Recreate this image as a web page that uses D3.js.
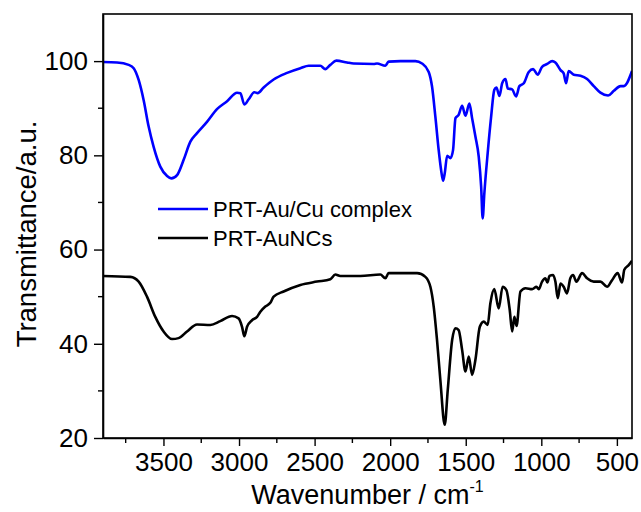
<!DOCTYPE html>
<html>
<head>
<meta charset="utf-8">
<script src="https://cdn.jsdelivr.net/npm/d3@7"></script>
<style>
  body { margin: 0; background: #fff; }
  svg { display: block; }
  text { font-family: "Liberation Sans", Arial, sans-serif; fill: #000; }
</style>
</head>
<body>
<svg id="chart" width="641" height="512"></svg>
<script>
// FTIR spectra: wavenumber (cm^-1) and transmittance (a.u.)
const seriesNames = ["PRT-Au/Cu complex", "PRT-AuNCs"];
const seriesColors = ["#0000ff", "#000000"];

const complexWn = [3900, 3807, 3730, 3697, 3664, 3631, 3598, 3565, 3521, 3476, 3448, 3410, 3367, 3322, 3278, 3212, 3146, 3079, 3013, 2991, 2965, 2936, 2899, 2877, 2837, 2771, 2682, 2594, 2539, 2462, 2429, 2396, 2356, 2285, 2242, 2109, 2087, 2032, 2010, 1932, 1833, 1789, 1745, 1723, 1701, 1679, 1663, 1650, 1639, 1623, 1601, 1584, 1568, 1547, 1524, 1502, 1476, 1458, 1436, 1414, 1398, 1388, 1377, 1355, 1332, 1311, 1297, 1277, 1259, 1237, 1222, 1193, 1167, 1145, 1116, 1083, 1054, 1024, 995, 961, 928, 907, 873, 852, 836, 819, 785, 741, 697, 653, 609, 558, 520, 476, 454, 400];
const complexT = [99.8, 99.7, 99.2, 98.5, 96.0, 91.7, 86.1, 81.8, 77.6, 75.6, 75.1, 75.8, 79.0, 82.9, 84.7, 87.1, 89.8, 91.5, 93.3, 93.2, 90.8, 91.9, 93.4, 93.2, 94.4, 96.1, 97.5, 98.5, 99.0, 99.0, 98.3, 99.2, 100.1, 99.7, 99.5, 99.4, 99.5, 99.0, 99.9, 100.0, 100.0, 99.5, 97.7, 94.6, 88.2, 81.1, 76.9, 74.6, 76.2, 79.9, 79.4, 81.1, 87.9, 88.6, 90.5, 88.4, 91.0, 87.9, 84.0, 79.7, 73.3, 66.6, 71.9, 80.4, 88.2, 93.9, 94.4, 92.6, 95.3, 96.2, 94.2, 94.0, 92.5, 94.7, 95.3, 97.7, 98.3, 97.1, 98.8, 99.4, 100.0, 99.7, 98.1, 97.4, 95.3, 97.9, 97.1, 96.9, 96.2, 94.7, 93.3, 92.7, 93.7, 94.7, 94.7, 97.9];

const auncWn = [3900, 3719, 3664, 3609, 3554, 3499, 3443, 3400, 3344, 3278, 3190, 3124, 3046, 3003, 2980, 2965, 2947, 2914, 2881, 2859, 2826, 2793, 2771, 2705, 2594, 2484, 2396, 2363, 2330, 2197, 2065, 2032, 2010, 1932, 1822, 1767, 1734, 1712, 1690, 1668, 1639, 1619, 1590, 1568, 1547, 1524, 1502, 1480, 1458, 1436, 1407, 1381, 1355, 1337, 1311, 1282, 1256, 1231, 1209, 1193, 1178, 1164, 1138, 1105, 1061, 1032, 1017, 995, 973, 960, 946, 922, 907, 891, 873, 852, 830, 808, 790, 768, 730, 697, 653, 609, 565, 532, 495, 466, 451, 422, 400];
const auncT = [54.4, 54.2, 53.2, 50.0, 45.7, 42.6, 41.0, 41.2, 42.6, 44.1, 44.0, 44.8, 45.9, 45.4, 43.6, 41.6, 43.6, 45.0, 45.7, 46.8, 47.9, 48.7, 50.0, 51.1, 52.5, 53.2, 53.7, 54.7, 54.4, 54.4, 54.7, 53.9, 55.0, 55.0, 55.0, 54.2, 52.1, 47.9, 40.8, 32.3, 22.8, 30.2, 40.8, 43.3, 42.9, 38.7, 34.1, 37.3, 33.4, 36.6, 43.6, 44.7, 44.0, 48.6, 51.6, 47.5, 52.1, 51.4, 47.2, 42.6, 45.7, 43.8, 51.1, 51.8, 51.6, 52.1, 51.6, 53.2, 53.9, 53.0, 54.4, 54.6, 53.2, 49.7, 52.8, 52.1, 50.7, 53.9, 54.6, 53.2, 55.0, 53.9, 53.2, 53.2, 52.1, 53.5, 55.0, 53.0, 55.7, 56.7, 57.6];

const xMajorTicks = [3500, 3000, 2500, 2000, 1500, 1000, 500];
const xMinorTicks = [3750, 3250, 2750, 2250, 1750, 1250, 750];
const yMajorTicks = [20, 40, 60, 80, 100];
const yMinorTicks = [30, 50, 70, 90];

const plot = { left: 103, right: 632, top: 14, bottom: 438 };

const svg = d3.select("#chart");

const x = d3.scaleLinear().domain([3900, 400]).range([plot.left, plot.right]);
const y = d3.scaleLinear().domain([20, 110]).range([plot.bottom, plot.top]);

const series = [
  { name: seriesNames[0], color: seriesColors[0], points: complexWn.map((w, i) => [w, complexT[i]]) },
  { name: seriesNames[1], color: seriesColors[1], points: auncWn.map((w, i) => [w, auncT[i]]) }
];

// curves, clipped to the plotting frame
svg.append("clipPath").attr("id", "clip")
  .append("rect")
  .attr("x", plot.left).attr("y", plot.top)
  .attr("width", plot.right - plot.left).attr("height", plot.bottom - plot.top);

const line = d3.line().x(d => x(d[0])).y(d => y(d[1])).curve(d3.curveMonotoneX);

svg.append("g").attr("clip-path", "url(#clip)")
  .selectAll("path").data(series).join("path")
  .attr("fill", "none")
  .attr("stroke", d => d.color)
  .attr("stroke-width", 2.6)
  .attr("stroke-linejoin", "round")
  .attr("d", d => line(d.points.slice().sort((a, b) => b[0] - a[0])));

// frame
svg.append("rect")
  .attr("x", plot.left).attr("y", plot.top)
  .attr("width", plot.right - plot.left).attr("height", plot.bottom - plot.top)
  .attr("fill", "none").attr("stroke", "#000").attr("stroke-width", 1.6);

// bottom axis
const xAxis = svg.append("g").attr("transform", `translate(0,${plot.bottom})`)
  .call(d3.axisBottom(x).tickValues(xMajorTicks).tickSize(8).tickSizeOuter(0).tickPadding(7).tickFormat(d3.format("d")));
xAxis.append("g").selectAll("line").data(xMinorTicks).join("line")
  .attr("x1", d => x(d)).attr("x2", d => x(d)).attr("y1", 0).attr("y2", 5)
  .attr("stroke", "#000");

// left axis
const yAxis = svg.append("g").attr("transform", `translate(${plot.left},0)`)
  .call(d3.axisLeft(y).tickValues(yMajorTicks).tickSize(9).tickSizeOuter(0).tickPadding(6).tickFormat(d3.format("d")));
yAxis.append("g").selectAll("line").data(yMinorTicks).join("line")
  .attr("x1", 0).attr("x2", -5).attr("y1", d => y(d)).attr("y2", d => y(d))
  .attr("stroke", "#000");

[xAxis, yAxis].forEach(a => {
  a.select(".domain").attr("stroke-width", 1.6);
  a.selectAll("line").attr("stroke-width", 1.4);
  a.selectAll(".tick text").attr("font-size", 26).attr("font-family", '"Liberation Sans", Arial, sans-serif');
});

// axis titles
const xTitle = svg.append("text")
  .attr("x", (plot.left + plot.right) / 2).attr("y", 504)
  .attr("text-anchor", "middle").attr("font-size", 27);
xTitle.append("tspan").text("Wavenumber / cm");
xTitle.append("tspan").attr("font-size", 16).attr("dy", -12).text("-1");

svg.append("text")
  .attr("transform", "translate(36,234) rotate(-90)")
  .attr("text-anchor", "middle").attr("font-size", 27.5)
  .text("Transmittance/a.u.");

// legend
const legend = svg.append("g").selectAll("g").data(series).join("g")
  .attr("transform", (d, i) => `translate(158,${209 + i * 29})`);
legend.append("line")
  .attr("x1", 0).attr("x2", 50).attr("y1", 0).attr("y2", 0)
  .attr("stroke", d => d.color).attr("stroke-width", 2.6);
legend.append("text")
  .attr("x", 55).attr("y", 7.5)
  .attr("font-size", 22)
  .text(d => d.name);
</script>
</body>
</html>
